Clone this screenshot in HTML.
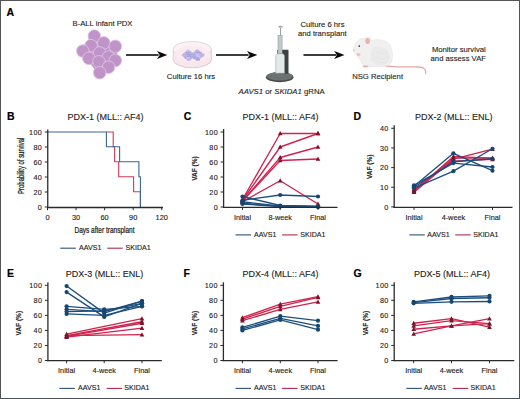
<!DOCTYPE html>
<html><head><meta charset="utf-8"><style>
html,body{margin:0;padding:0;background:#fff;}
body{width:520px;height:399px;overflow:hidden;}
svg{display:block;font-family:"Liberation Sans", sans-serif;}
text{stroke:#222;stroke-width:0.12px;}
</style></head><body>
<svg width="520" height="399" viewBox="0 0 520 399">
<rect x="0" y="0" width="520" height="399" fill="#fff"/>
<text x="6.60" y="15.60" font-size="10.5" text-anchor="start" font-weight="bold" font-style="normal" fill="#000" style="stroke:#000;stroke-width:0.2px">A</text>
<text x="102.50" y="26.36" font-size="7.7" text-anchor="middle" font-weight="normal" font-style="normal" fill="#1c1c1c" >B-ALL infant PDX</text>
<g>
<path d="M94.3,36.1 L103.8,42.9 L115.3,46.3 L115.3,60.5 L108.5,67.2 L99.7,72.7 L88.9,58.4 L82.8,51 L91,45.6 Z" fill="#c094c9" stroke="#c094c9" stroke-width="4" stroke-linejoin="round"/>
<circle cx="94.3" cy="36.1" r="6.3" fill="#c094c9" stroke="#dfc4e4" stroke-width="0.85"/>
<circle cx="91" cy="45.6" r="6.3" fill="#c094c9" stroke="#dfc4e4" stroke-width="0.85"/>
<circle cx="103.8" cy="42.9" r="6.3" fill="#c094c9" stroke="#dfc4e4" stroke-width="0.85"/>
<circle cx="115.3" cy="46.3" r="6.3" fill="#c094c9" stroke="#dfc4e4" stroke-width="0.85"/>
<circle cx="82.8" cy="51" r="6.3" fill="#c094c9" stroke="#dfc4e4" stroke-width="0.85"/>
<circle cx="99.7" cy="53" r="6.3" fill="#c094c9" stroke="#dfc4e4" stroke-width="0.85"/>
<circle cx="88.9" cy="58.4" r="6.3" fill="#c094c9" stroke="#dfc4e4" stroke-width="0.85"/>
<circle cx="108.5" cy="57.1" r="6.3" fill="#c094c9" stroke="#dfc4e4" stroke-width="0.85"/>
<circle cx="115.3" cy="60.5" r="6.3" fill="#c094c9" stroke="#dfc4e4" stroke-width="0.85"/>
<circle cx="99" cy="61.8" r="6.3" fill="#c094c9" stroke="#dfc4e4" stroke-width="0.85"/>
<circle cx="108.5" cy="67.2" r="6.3" fill="#c094c9" stroke="#dfc4e4" stroke-width="0.85"/>
<circle cx="99.7" cy="72.7" r="6.3" fill="#c094c9" stroke="#dfc4e4" stroke-width="0.85"/>
</g>
<line x1="126.00" y1="54.90" x2="158.50" y2="54.90" stroke="#3c3c3c" stroke-width="2.0" />
<path d="M167.3,54.9 L157.0,50.9 L159.70000000000002,54.9 L157.0,58.9Z" fill="#0a0a0a"/>
<line x1="216.00" y1="54.90" x2="248.50" y2="54.90" stroke="#3c3c3c" stroke-width="2.0" />
<path d="M257.3,54.9 L247.0,50.9 L249.70000000000002,54.9 L247.0,58.9Z" fill="#0a0a0a"/>
<line x1="303.50" y1="54.90" x2="336.30" y2="54.90" stroke="#3c3c3c" stroke-width="2.0" />
<path d="M344.5,54.9 L334.2,50.9 L336.9,54.9 L334.2,58.9Z" fill="#0a0a0a"/>
<ellipse cx="192.3" cy="59.4" rx="19.2" ry="8.4" fill="#f8e6ed" stroke="#e0b8c6" stroke-width="0.8"/>
<rect x="173.1" y="49.6" width="38.4" height="9.8" fill="#f8e6ed"/>
<line x1="173.1" y1="49.6" x2="173.1" y2="59.4" stroke="#d6cbd0" stroke-width="0.7"/>
<line x1="211.5" y1="49.6" x2="211.5" y2="59.4" stroke="#d6cbd0" stroke-width="0.7"/>
<ellipse cx="192.3" cy="49.6" rx="19.2" ry="8.1" fill="#fcf1f5" stroke="#c9ced6" stroke-width="0.7"/>
<ellipse cx="192.3" cy="54.3" rx="17.3" ry="8.2" fill="#fbeaf0"/>
<path d="M181.3,55.2 L188.3,49.3 L192.8,52.8 L197.3,49.3 L204.6,55.2 L197.3,61 L192.8,58.5 L188.3,61 Z" fill="#bfb9e6"/>
<circle cx="187.40" cy="50.80" r="0.95" fill="#cdc8ee"/>
<circle cx="189.20" cy="50.80" r="0.95" fill="#cdc8ee"/>
<circle cx="196.40" cy="50.80" r="0.95" fill="#b9b3e3"/>
<circle cx="198.20" cy="50.80" r="0.95" fill="#b9b3e3"/>
<circle cx="186.50" cy="52.60" r="0.95" fill="#a7a0d9"/>
<circle cx="188.30" cy="52.60" r="0.95" fill="#aea8de"/>
<circle cx="190.10" cy="52.60" r="0.95" fill="#aea8de"/>
<circle cx="191.90" cy="52.60" r="0.95" fill="#cdc8ee"/>
<circle cx="195.50" cy="52.60" r="0.95" fill="#b9b3e3"/>
<circle cx="197.30" cy="52.60" r="0.95" fill="#a7a0d9"/>
<circle cx="199.10" cy="52.60" r="0.95" fill="#a7a0d9"/>
<circle cx="200.90" cy="52.60" r="0.95" fill="#aea8de"/>
<circle cx="183.80" cy="54.40" r="0.95" fill="#b9b3e3"/>
<circle cx="185.60" cy="54.40" r="0.95" fill="#b9b3e3"/>
<circle cx="187.40" cy="54.40" r="0.95" fill="#a7a0d9"/>
<circle cx="189.20" cy="54.40" r="0.95" fill="#a7a0d9"/>
<circle cx="191.00" cy="54.40" r="0.95" fill="#aea8de"/>
<circle cx="192.80" cy="54.40" r="0.95" fill="#aea8de"/>
<circle cx="194.60" cy="54.40" r="0.95" fill="#aea8de"/>
<circle cx="196.40" cy="54.40" r="0.95" fill="#cdc8ee"/>
<circle cx="198.20" cy="54.40" r="0.95" fill="#cdc8ee"/>
<circle cx="200.00" cy="54.40" r="0.95" fill="#b9b3e3"/>
<circle cx="201.80" cy="54.40" r="0.95" fill="#b9b3e3"/>
<circle cx="203.60" cy="54.40" r="0.95" fill="#b9b3e3"/>
<circle cx="184.70" cy="56.20" r="0.95" fill="#b9b3e3"/>
<circle cx="186.50" cy="56.20" r="0.95" fill="#b9b3e3"/>
<circle cx="188.30" cy="56.20" r="0.95" fill="#a7a0d9"/>
<circle cx="190.10" cy="56.20" r="0.95" fill="#a7a0d9"/>
<circle cx="191.90" cy="56.20" r="0.95" fill="#aea8de"/>
<circle cx="193.70" cy="56.20" r="0.95" fill="#aea8de"/>
<circle cx="195.50" cy="56.20" r="0.95" fill="#aea8de"/>
<circle cx="197.30" cy="56.20" r="0.95" fill="#cdc8ee"/>
<circle cx="199.10" cy="56.20" r="0.95" fill="#cdc8ee"/>
<circle cx="200.90" cy="56.20" r="0.95" fill="#b9b3e3"/>
<circle cx="202.70" cy="56.20" r="0.95" fill="#b9b3e3"/>
<circle cx="185.60" cy="58.00" r="0.95" fill="#aea8de"/>
<circle cx="187.40" cy="58.00" r="0.95" fill="#cdc8ee"/>
<circle cx="189.20" cy="58.00" r="0.95" fill="#cdc8ee"/>
<circle cx="191.00" cy="58.00" r="0.95" fill="#b9b3e3"/>
<circle cx="194.60" cy="58.00" r="0.95" fill="#a7a0d9"/>
<circle cx="196.40" cy="58.00" r="0.95" fill="#aea8de"/>
<circle cx="198.20" cy="58.00" r="0.95" fill="#aea8de"/>
<circle cx="200.00" cy="58.00" r="0.95" fill="#cdc8ee"/>
<circle cx="188.30" cy="59.80" r="0.95" fill="#b9b3e3"/>
<circle cx="190.10" cy="59.80" r="0.95" fill="#b9b3e3"/>
<circle cx="197.30" cy="59.80" r="0.95" fill="#a7a0d9"/>
<circle cx="199.10" cy="59.80" r="0.95" fill="#a7a0d9"/>
<text x="191.00" y="79.36" font-size="7.7" text-anchor="middle" font-weight="normal" font-style="normal" fill="#1c1c1c" >Culture 16 hrs</text>
<ellipse cx="279.7" cy="77.3" rx="13.8" ry="5" fill="#474d4c"/>
<ellipse cx="279.7" cy="76.3" rx="13.2" ry="4.2" fill="#6c7271"/>
<rect x="277.3" y="49.7" width="11.2" height="24" rx="0.8" fill="#3b4342"/>
<rect x="278" y="35.3" width="4.1" height="18" fill="#c3c9c9" stroke="#8a9292" stroke-width="0.5"/>
<rect x="280" y="28" width="1" height="7.5" fill="#9aa1a0"/>
<ellipse cx="280.5" cy="26.8" rx="2.4" ry="1" fill="#a3aaa9"/>
<path d="M275.7,73.2 L275.7,56.5 C275.7,54.5 277,53.6 278.5,53.6 L281.7,53.6 C283.2,53.6 284.5,54.5 284.5,56.5 L284.5,73.2 Z" fill="#e3e8e8" stroke="#99a1a1" stroke-width="0.5"/>
<text x="238.5" y="94.22" font-size="7.75" fill="#1c1c1c"><tspan font-style="italic">AAVS1</tspan> or <tspan font-style="italic">SKIDA1</tspan> gRNA</text>
<text x="322.50" y="26.86" font-size="7.7" text-anchor="middle" font-weight="normal" font-style="normal" fill="#1c1c1c" >Culture 6 hrs</text>
<text x="322.30" y="35.66" font-size="7.7" text-anchor="middle" font-weight="normal" font-style="normal" fill="#1c1c1c" >and transplant</text>
<path d="M386,66.2 C398,67.6 410,66.6 419.5,67 C424.5,67.4 426.3,70 425.6,73.6" fill="none" stroke="#e2a9a8" stroke-width="1.3" stroke-linecap="round"/>
<path d="M353.3,50 C354.5,45 357,40.5 360.5,38.9 C364,37.8 368,38.8 371.5,40.5 C376,39 384,39.3 388.5,43.5 C392.5,47.5 393.2,56 391.8,61 C390.5,64.8 387.5,66 383,66.4 L366.5,66.6 C363.5,66.4 361.8,64 361.4,61 C359.8,59.2 357.6,57.5 357,55 C355.2,53.8 353.4,52.2 353.3,50 Z" fill="#f0f0f1" stroke="#dcdcdf" stroke-width="0.5"/>
<path d="M372,48 C378,45 387,47 389.5,54 C391,60 388,64.8 383,65.5 C377,66 371,63 370.5,57 Z" fill="#e8e8ea" opacity="0.8"/>
<path d="M376,52 C380,54 384,54 388,52 M375,57 C380,59 385,59 389,57 M377,61.5 C381,63 385,63 388.5,61.5" fill="none" stroke="#dedee2" stroke-width="0.5"/>
<ellipse cx="367.6" cy="40.8" rx="3.4" ry="3.9" fill="#f7ecea"/>
<ellipse cx="367.6" cy="41" rx="2.4" ry="3" fill="#e8b4b0"/>
<circle cx="359.3" cy="46.1" r="0.85" fill="#3a2c33"/>
<ellipse cx="358.4" cy="54.6" rx="2.1" ry="1.4" fill="#ecbcb8"/>
<ellipse cx="353.8" cy="50.2" rx="0.9" ry="0.8" fill="#e8b8b4"/>
<ellipse cx="365.5" cy="66.3" rx="3.2" ry="0.9" fill="#e7b0ad"/>
<text x="377.60" y="79.36" font-size="7.7" text-anchor="middle" font-weight="normal" font-style="normal" fill="#1c1c1c" >NSG Recipient</text>
<text x="458.80" y="52.26" font-size="7.7" text-anchor="middle" font-weight="normal" font-style="normal" fill="#1c1c1c" >Monitor survival</text>
<text x="458.30" y="61.16" font-size="7.7" text-anchor="middle" font-weight="normal" font-style="normal" fill="#1c1c1c" >and assess VAF</text>
<text x="6.90" y="120.20" font-size="10.5" text-anchor="start" font-weight="bold" font-style="normal" fill="#000" style="stroke:#000;stroke-width:0.2px">B</text>
<text x="105.50" y="119.92" font-size="9.0" text-anchor="middle" font-weight="normal" font-style="normal" fill="#1c1c1c" >PDX-1 (MLL:: AF4)</text>
<path d="M106.4,132 L113.2,132 L113.2,146.8 L114.6,146.8 L114.6,161.8 L118.7,161.8 L118.7,176.8 L133.6,176.8 L133.6,191.8 L140.4,191.8 L140.4,207" fill="none" stroke="#d23a5c" stroke-width="1.1"/>
<path d="M47.5,132 L106.4,132 L106.4,146.8 L119.6,146.8 L119.6,161.8 L138.9,161.8 L138.9,176.8 L140.4,176.8 L140.4,207" fill="none" stroke="#36679a" stroke-width="1.1"/>
<line x1="47.75" y1="129.50" x2="47.75" y2="207.60" stroke="#2b2b2b" stroke-width="1.3" />
<line x1="44.75" y1="132.00" x2="47.75" y2="132.00" stroke="#2b2b2b" stroke-width="1.0" />
<text x="42.25" y="134.78" font-size="7.2" text-anchor="end" font-weight="normal" font-style="normal" fill="#222" letter-spacing="0.4">100</text>
<line x1="44.75" y1="147.00" x2="47.75" y2="147.00" stroke="#2b2b2b" stroke-width="1.0" />
<text x="42.25" y="149.78" font-size="7.2" text-anchor="end" font-weight="normal" font-style="normal" fill="#222" letter-spacing="0.4">80</text>
<line x1="44.75" y1="162.00" x2="47.75" y2="162.00" stroke="#2b2b2b" stroke-width="1.0" />
<text x="42.25" y="164.78" font-size="7.2" text-anchor="end" font-weight="normal" font-style="normal" fill="#222" letter-spacing="0.4">60</text>
<line x1="44.75" y1="177.00" x2="47.75" y2="177.00" stroke="#2b2b2b" stroke-width="1.0" />
<text x="42.25" y="179.78" font-size="7.2" text-anchor="end" font-weight="normal" font-style="normal" fill="#222" letter-spacing="0.4">40</text>
<line x1="44.75" y1="192.00" x2="47.75" y2="192.00" stroke="#2b2b2b" stroke-width="1.0" />
<text x="42.25" y="194.78" font-size="7.2" text-anchor="end" font-weight="normal" font-style="normal" fill="#222" letter-spacing="0.4">20</text>
<line x1="44.75" y1="207.00" x2="47.75" y2="207.00" stroke="#2b2b2b" stroke-width="1.0" />
<text x="42.25" y="209.78" font-size="7.2" text-anchor="end" font-weight="normal" font-style="normal" fill="#222" letter-spacing="0.4">0</text>
<line x1="47.10" y1="207.50" x2="163.00" y2="207.50" stroke="#2b2b2b" stroke-width="1.3" />
<line x1="47.50" y1="207.50" x2="47.50" y2="210.20" stroke="#2b2b2b" stroke-width="1.0" />
<text x="47.50" y="219.65" font-size="7.4" text-anchor="middle" font-weight="normal" font-style="normal" fill="#222" >0</text>
<line x1="76.06" y1="207.50" x2="76.06" y2="210.20" stroke="#2b2b2b" stroke-width="1.0" />
<text x="76.06" y="219.65" font-size="7.4" text-anchor="middle" font-weight="normal" font-style="normal" fill="#222" >30</text>
<line x1="104.62" y1="207.50" x2="104.62" y2="210.20" stroke="#2b2b2b" stroke-width="1.0" />
<text x="104.62" y="219.65" font-size="7.4" text-anchor="middle" font-weight="normal" font-style="normal" fill="#222" >60</text>
<line x1="133.18" y1="207.50" x2="133.18" y2="210.20" stroke="#2b2b2b" stroke-width="1.0" />
<text x="133.18" y="219.65" font-size="7.4" text-anchor="middle" font-weight="normal" font-style="normal" fill="#222" >90</text>
<line x1="161.74" y1="207.50" x2="161.74" y2="210.20" stroke="#2b2b2b" stroke-width="1.0" />
<text x="161.74" y="219.65" font-size="7.4" text-anchor="middle" font-weight="normal" font-style="normal" fill="#222" >120</text>
<text transform="translate(104.5,230.2) scale(0.74,1)" x="0" y="3.04" font-size="8.8" text-anchor="middle" font-weight="normal" style="stroke:#222;stroke-width:0.25px" fill="#222">Days after transplant</text>
<text transform="translate(20.85,165.80) rotate(-90) scale(0.7,1)" x="0" y="2.93" font-size="8.5" text-anchor="middle" font-weight="normal" fill="#222" style="stroke:#222;stroke-width:0.25px">Probability of survival</text>
<line x1="60.30" y1="248.20" x2="75.80" y2="248.20" stroke="#2d5078" stroke-width="1.1" />
<text x="79.00" y="250.14" font-size="7.1" text-anchor="start" font-weight="normal" font-style="normal" fill="#222" >AAVS1</text>
<line x1="107.20" y1="248.20" x2="122.70" y2="248.20" stroke="#b02a4e" stroke-width="1.1" />
<text x="125.50" y="250.14" font-size="7.1" text-anchor="start" font-weight="normal" font-style="normal" fill="#222" >SKIDA1</text>
<text x="183.70" y="120.20" font-size="10.5" text-anchor="start" font-weight="bold" font-style="normal" fill="#000" style="stroke:#000;stroke-width:0.2px">C</text>
<text x="280.50" y="119.92" font-size="9.0" text-anchor="middle" font-weight="normal" font-style="normal" fill="#1c1c1c" >PDX-1 (MLL:: AF4)</text>
<path d="M242.50,199.50 L280.20,133.50 L318.00,133.50" fill="none" stroke="#d0234e" stroke-width="1.35" stroke-linejoin="round"/>
<path d="M242.50,200.25 L280.20,147.00 L318.00,133.50" fill="none" stroke="#d0234e" stroke-width="1.35" stroke-linejoin="round"/>
<path d="M242.50,201.00 L280.20,157.50 L318.00,147.00" fill="none" stroke="#d0234e" stroke-width="1.35" stroke-linejoin="round"/>
<path d="M242.50,201.00 L280.20,160.50 L318.00,159.00" fill="none" stroke="#d0234e" stroke-width="1.35" stroke-linejoin="round"/>
<path d="M242.50,201.75 L280.20,180.75 L318.00,204.00" fill="none" stroke="#d0234e" stroke-width="1.35" stroke-linejoin="round"/>
<path d="M242.50,197.09 L244.80,201.34 L240.20,201.34Z" fill="#7a1428"/>
<path d="M280.20,131.09 L282.50,135.34 L277.90,135.34Z" fill="#7a1428"/>
<path d="M318.00,131.09 L320.30,135.34 L315.70,135.34Z" fill="#7a1428"/>
<path d="M242.50,197.84 L244.80,202.09 L240.20,202.09Z" fill="#7a1428"/>
<path d="M280.20,144.59 L282.50,148.84 L277.90,148.84Z" fill="#7a1428"/>
<path d="M318.00,131.09 L320.30,135.34 L315.70,135.34Z" fill="#7a1428"/>
<path d="M242.50,198.59 L244.80,202.84 L240.20,202.84Z" fill="#7a1428"/>
<path d="M280.20,155.09 L282.50,159.34 L277.90,159.34Z" fill="#7a1428"/>
<path d="M318.00,144.59 L320.30,148.84 L315.70,148.84Z" fill="#7a1428"/>
<path d="M242.50,198.59 L244.80,202.84 L240.20,202.84Z" fill="#7a1428"/>
<path d="M280.20,158.09 L282.50,162.34 L277.90,162.34Z" fill="#7a1428"/>
<path d="M318.00,156.59 L320.30,160.84 L315.70,160.84Z" fill="#7a1428"/>
<path d="M242.50,199.34 L244.80,203.59 L240.20,203.59Z" fill="#7a1428"/>
<path d="M280.20,178.34 L282.50,182.59 L277.90,182.59Z" fill="#7a1428"/>
<path d="M318.00,201.59 L320.30,205.84 L315.70,205.84Z" fill="#7a1428"/>
<path d="M242.50,196.50 L280.20,205.50 L318.00,206.25" fill="none" stroke="#1c4f80" stroke-width="1.35" stroke-linejoin="round"/>
<path d="M242.50,200.25 L280.20,195.00 L318.00,196.50" fill="none" stroke="#1c4f80" stroke-width="1.35" stroke-linejoin="round"/>
<path d="M242.50,201.75 L280.20,206.25 L318.00,206.78" fill="none" stroke="#1c4f80" stroke-width="1.35" stroke-linejoin="round"/>
<path d="M242.50,203.25 L280.20,206.25 L318.00,206.78" fill="none" stroke="#1c4f80" stroke-width="1.35" stroke-linejoin="round"/>
<path d="M242.50,204.00 L280.20,206.62 L318.00,206.78" fill="none" stroke="#1c4f80" stroke-width="1.35" stroke-linejoin="round"/>
<circle cx="242.50" cy="196.50" r="2.1" fill="#17466f"/>
<circle cx="280.20" cy="205.50" r="2.1" fill="#17466f"/>
<circle cx="318.00" cy="206.25" r="2.1" fill="#17466f"/>
<circle cx="242.50" cy="200.25" r="2.1" fill="#17466f"/>
<circle cx="280.20" cy="195.00" r="2.1" fill="#17466f"/>
<circle cx="318.00" cy="196.50" r="2.1" fill="#17466f"/>
<circle cx="242.50" cy="201.75" r="2.1" fill="#17466f"/>
<circle cx="280.20" cy="206.25" r="2.1" fill="#17466f"/>
<circle cx="318.00" cy="206.78" r="2.1" fill="#17466f"/>
<circle cx="242.50" cy="203.25" r="2.1" fill="#17466f"/>
<circle cx="280.20" cy="206.25" r="2.1" fill="#17466f"/>
<circle cx="318.00" cy="206.78" r="2.1" fill="#17466f"/>
<circle cx="242.50" cy="204.00" r="2.1" fill="#17466f"/>
<circle cx="280.20" cy="206.62" r="2.1" fill="#17466f"/>
<circle cx="318.00" cy="206.78" r="2.1" fill="#17466f"/>
<line x1="223.60" y1="129.00" x2="223.60" y2="207.90" stroke="#2b2b2b" stroke-width="1.3" />
<line x1="220.60" y1="132.00" x2="223.60" y2="132.00" stroke="#2b2b2b" stroke-width="1.0" />
<text x="218.10" y="134.78" font-size="7.2" text-anchor="end" font-weight="normal" font-style="normal" fill="#222" letter-spacing="0.4">100</text>
<line x1="220.60" y1="147.00" x2="223.60" y2="147.00" stroke="#2b2b2b" stroke-width="1.0" />
<text x="218.10" y="149.78" font-size="7.2" text-anchor="end" font-weight="normal" font-style="normal" fill="#222" letter-spacing="0.4">80</text>
<line x1="220.60" y1="162.00" x2="223.60" y2="162.00" stroke="#2b2b2b" stroke-width="1.0" />
<text x="218.10" y="164.78" font-size="7.2" text-anchor="end" font-weight="normal" font-style="normal" fill="#222" letter-spacing="0.4">60</text>
<line x1="220.60" y1="177.00" x2="223.60" y2="177.00" stroke="#2b2b2b" stroke-width="1.0" />
<text x="218.10" y="179.78" font-size="7.2" text-anchor="end" font-weight="normal" font-style="normal" fill="#222" letter-spacing="0.4">40</text>
<line x1="220.60" y1="192.00" x2="223.60" y2="192.00" stroke="#2b2b2b" stroke-width="1.0" />
<text x="218.10" y="194.78" font-size="7.2" text-anchor="end" font-weight="normal" font-style="normal" fill="#222" letter-spacing="0.4">20</text>
<line x1="220.60" y1="207.00" x2="223.60" y2="207.00" stroke="#2b2b2b" stroke-width="1.0" />
<text x="218.10" y="209.78" font-size="7.2" text-anchor="end" font-weight="normal" font-style="normal" fill="#222" letter-spacing="0.4">0</text>
<line x1="222.95" y1="207.30" x2="337.50" y2="207.30" stroke="#2b2b2b" stroke-width="1.3" />
<line x1="242.50" y1="207.30" x2="242.50" y2="209.90" stroke="#2b2b2b" stroke-width="1.0" />
<text x="242.50" y="219.61" font-size="7.3" text-anchor="middle" font-weight="normal" font-style="normal" fill="#222" >Initial</text>
<line x1="280.20" y1="207.30" x2="280.20" y2="209.90" stroke="#2b2b2b" stroke-width="1.0" />
<text x="280.20" y="219.61" font-size="7.3" text-anchor="middle" font-weight="normal" font-style="normal" fill="#222" >8-week</text>
<line x1="318.00" y1="207.30" x2="318.00" y2="209.90" stroke="#2b2b2b" stroke-width="1.0" />
<text x="318.00" y="219.61" font-size="7.3" text-anchor="middle" font-weight="normal" font-style="normal" fill="#222" >Final</text>
<text transform="translate(194.50,168.50) rotate(-90) scale(0.86,1)" x="0" y="2.62" font-size="7.6" text-anchor="middle" font-weight="bold" fill="#222">VAF (%)</text>
<line x1="235.50" y1="234.90" x2="251.00" y2="234.90" stroke="#2d5078" stroke-width="1.1" />
<text x="254.00" y="236.84" font-size="7.1" text-anchor="start" font-weight="normal" font-style="normal" fill="#222" >AAVS1</text>
<line x1="282.10" y1="234.90" x2="297.60" y2="234.90" stroke="#b02a4e" stroke-width="1.1" />
<text x="300.30" y="236.84" font-size="7.1" text-anchor="start" font-weight="normal" font-style="normal" fill="#222" >SKIDA1</text>
<text x="353.60" y="120.20" font-size="10.5" text-anchor="start" font-weight="bold" font-style="normal" fill="#000" style="stroke:#000;stroke-width:0.2px">D</text>
<text x="453.70" y="119.92" font-size="9.0" text-anchor="middle" font-weight="normal" font-style="normal" fill="#1c1c1c" >PDX-2 (MLL:: ENL)</text>
<path d="M414.00,191.18 L453.40,156.40 L492.50,158.36" fill="none" stroke="#d0234e" stroke-width="1.35" stroke-linejoin="round"/>
<path d="M414.00,192.16 L453.40,159.15 L492.50,149.13" fill="none" stroke="#d0234e" stroke-width="1.35" stroke-linejoin="round"/>
<path d="M414.00,189.22 L453.40,161.12 L492.50,159.35" fill="none" stroke="#d0234e" stroke-width="1.35" stroke-linejoin="round"/>
<path d="M414.00,190.20 L453.40,158.17 L492.50,157.97" fill="none" stroke="#d0234e" stroke-width="1.35" stroke-linejoin="round"/>
<path d="M414.00,188.77 L416.30,193.02 L411.70,193.02Z" fill="#7a1428"/>
<path d="M453.40,153.98 L455.70,158.24 L451.10,158.24Z" fill="#7a1428"/>
<path d="M492.50,155.95 L494.80,160.20 L490.20,160.20Z" fill="#7a1428"/>
<path d="M414.00,189.75 L416.30,194.00 L411.70,194.00Z" fill="#7a1428"/>
<path d="M453.40,156.74 L455.70,160.99 L451.10,160.99Z" fill="#7a1428"/>
<path d="M492.50,146.71 L494.80,150.97 L490.20,150.97Z" fill="#7a1428"/>
<path d="M414.00,186.80 L416.30,191.06 L411.70,191.06Z" fill="#7a1428"/>
<path d="M453.40,158.70 L455.70,162.96 L451.10,162.96Z" fill="#7a1428"/>
<path d="M492.50,156.93 L494.80,161.19 L490.20,161.19Z" fill="#7a1428"/>
<path d="M414.00,187.78 L416.30,192.04 L411.70,192.04Z" fill="#7a1428"/>
<path d="M453.40,155.75 L455.70,160.01 L451.10,160.01Z" fill="#7a1428"/>
<path d="M492.50,155.56 L494.80,159.81 L490.20,159.81Z" fill="#7a1428"/>
<path d="M414.00,186.27 L453.40,153.26 L492.50,170.74" fill="none" stroke="#1c4f80" stroke-width="1.35" stroke-linejoin="round"/>
<path d="M414.00,185.28 L453.40,163.08 L492.50,167.01" fill="none" stroke="#1c4f80" stroke-width="1.35" stroke-linejoin="round"/>
<path d="M414.00,188.23 L453.40,171.14 L492.50,148.74" fill="none" stroke="#1c4f80" stroke-width="1.35" stroke-linejoin="round"/>
<path d="M414.00,187.25 L453.40,161.71 L492.50,158.76" fill="none" stroke="#1c4f80" stroke-width="1.35" stroke-linejoin="round"/>
<circle cx="414.00" cy="186.27" r="2.1" fill="#17466f"/>
<circle cx="453.40" cy="153.26" r="2.1" fill="#17466f"/>
<circle cx="492.50" cy="170.74" r="2.1" fill="#17466f"/>
<circle cx="414.00" cy="185.28" r="2.1" fill="#17466f"/>
<circle cx="453.40" cy="163.08" r="2.1" fill="#17466f"/>
<circle cx="492.50" cy="167.01" r="2.1" fill="#17466f"/>
<circle cx="414.00" cy="188.23" r="2.1" fill="#17466f"/>
<circle cx="453.40" cy="171.14" r="2.1" fill="#17466f"/>
<circle cx="492.50" cy="148.74" r="2.1" fill="#17466f"/>
<circle cx="414.00" cy="187.25" r="2.1" fill="#17466f"/>
<circle cx="453.40" cy="161.71" r="2.1" fill="#17466f"/>
<circle cx="492.50" cy="158.76" r="2.1" fill="#17466f"/>
<line x1="394.20" y1="125.30" x2="394.20" y2="207.90" stroke="#2b2b2b" stroke-width="1.3" />
<line x1="391.20" y1="128.30" x2="394.20" y2="128.30" stroke="#2b2b2b" stroke-width="1.0" />
<text x="388.70" y="131.08" font-size="7.2" text-anchor="end" font-weight="normal" font-style="normal" fill="#222" letter-spacing="0.4">40</text>
<line x1="391.20" y1="147.95" x2="394.20" y2="147.95" stroke="#2b2b2b" stroke-width="1.0" />
<text x="388.70" y="150.73" font-size="7.2" text-anchor="end" font-weight="normal" font-style="normal" fill="#222" letter-spacing="0.4">30</text>
<line x1="391.20" y1="167.60" x2="394.20" y2="167.60" stroke="#2b2b2b" stroke-width="1.0" />
<text x="388.70" y="170.38" font-size="7.2" text-anchor="end" font-weight="normal" font-style="normal" fill="#222" letter-spacing="0.4">20</text>
<line x1="391.20" y1="187.25" x2="394.20" y2="187.25" stroke="#2b2b2b" stroke-width="1.0" />
<text x="388.70" y="190.03" font-size="7.2" text-anchor="end" font-weight="normal" font-style="normal" fill="#222" letter-spacing="0.4">10</text>
<line x1="391.20" y1="206.90" x2="394.20" y2="206.90" stroke="#2b2b2b" stroke-width="1.0" />
<text x="388.70" y="209.68" font-size="7.2" text-anchor="end" font-weight="normal" font-style="normal" fill="#222" letter-spacing="0.4">0</text>
<line x1="393.55" y1="207.30" x2="512.50" y2="207.30" stroke="#2b2b2b" stroke-width="1.3" />
<line x1="414.00" y1="207.30" x2="414.00" y2="209.90" stroke="#2b2b2b" stroke-width="1.0" />
<text x="414.00" y="219.61" font-size="7.3" text-anchor="middle" font-weight="normal" font-style="normal" fill="#222" >Initial</text>
<line x1="453.40" y1="207.30" x2="453.40" y2="209.90" stroke="#2b2b2b" stroke-width="1.0" />
<text x="453.40" y="219.61" font-size="7.3" text-anchor="middle" font-weight="normal" font-style="normal" fill="#222" >4-week</text>
<line x1="492.50" y1="207.30" x2="492.50" y2="209.90" stroke="#2b2b2b" stroke-width="1.0" />
<text x="492.50" y="219.61" font-size="7.3" text-anchor="middle" font-weight="normal" font-style="normal" fill="#222" >Final</text>
<text transform="translate(369.60,166.80) rotate(-90) scale(0.86,1)" x="0" y="2.62" font-size="7.6" text-anchor="middle" font-weight="bold" fill="#222">VAF (%)</text>
<line x1="409.30" y1="234.90" x2="424.80" y2="234.90" stroke="#2d5078" stroke-width="1.1" />
<text x="427.30" y="236.84" font-size="7.1" text-anchor="start" font-weight="normal" font-style="normal" fill="#222" >AAVS1</text>
<line x1="455.20" y1="234.90" x2="470.70" y2="234.90" stroke="#b02a4e" stroke-width="1.1" />
<text x="473.20" y="236.84" font-size="7.1" text-anchor="start" font-weight="normal" font-style="normal" fill="#222" >SKIDA1</text>
<text x="7.10" y="276.60" font-size="10.5" text-anchor="start" font-weight="bold" font-style="normal" fill="#000" style="stroke:#000;stroke-width:0.2px">E</text>
<text x="104.60" y="276.92" font-size="9.0" text-anchor="middle" font-weight="normal" font-style="normal" fill="#1c1c1c" >PDX-3 (MLL:: ENL)</text>
<path d="M66.60,334.18 L142.00,318.69" fill="none" stroke="#d0234e" stroke-width="1.35" stroke-linejoin="round"/>
<path d="M66.60,335.68 L142.00,321.77" fill="none" stroke="#d0234e" stroke-width="1.35" stroke-linejoin="round"/>
<path d="M66.60,336.44 L142.00,323.28" fill="none" stroke="#d0234e" stroke-width="1.35" stroke-linejoin="round"/>
<path d="M66.60,337.19 L142.00,328.16" fill="none" stroke="#d0234e" stroke-width="1.35" stroke-linejoin="round"/>
<path d="M66.60,335.68 L142.00,334.56" fill="none" stroke="#d0234e" stroke-width="1.35" stroke-linejoin="round"/>
<path d="M66.60,331.76 L68.90,336.02 L64.30,336.02Z" fill="#7a1428"/>
<path d="M142.00,316.27 L144.30,320.53 L139.70,320.53Z" fill="#7a1428"/>
<path d="M66.60,333.27 L68.90,337.52 L64.30,337.52Z" fill="#7a1428"/>
<path d="M142.00,319.36 L144.30,323.61 L139.70,323.61Z" fill="#7a1428"/>
<path d="M66.60,334.02 L68.90,338.28 L64.30,338.28Z" fill="#7a1428"/>
<path d="M142.00,320.86 L144.30,325.12 L139.70,325.12Z" fill="#7a1428"/>
<path d="M66.60,334.77 L68.90,339.03 L64.30,339.03Z" fill="#7a1428"/>
<path d="M142.00,325.75 L144.30,330.00 L139.70,330.00Z" fill="#7a1428"/>
<path d="M66.60,333.27 L68.90,337.52 L64.30,337.52Z" fill="#7a1428"/>
<path d="M142.00,332.14 L144.30,336.40 L139.70,336.40Z" fill="#7a1428"/>
<path d="M66.60,286.05 L104.20,313.12 L142.00,301.09" fill="none" stroke="#1c4f80" stroke-width="1.35" stroke-linejoin="round"/>
<path d="M66.60,292.07 L104.20,316.88 L142.00,303.35" fill="none" stroke="#1c4f80" stroke-width="1.35" stroke-linejoin="round"/>
<path d="M66.60,306.36 L104.20,309.36 L142.00,306.36" fill="none" stroke="#1c4f80" stroke-width="1.35" stroke-linejoin="round"/>
<path d="M66.60,309.36 L104.20,311.62 L142.00,301.09" fill="none" stroke="#1c4f80" stroke-width="1.35" stroke-linejoin="round"/>
<path d="M66.60,311.62 L104.20,310.87 L142.00,303.35" fill="none" stroke="#1c4f80" stroke-width="1.35" stroke-linejoin="round"/>
<path d="M66.60,313.88 L104.20,315.38 L142.00,306.36" fill="none" stroke="#1c4f80" stroke-width="1.35" stroke-linejoin="round"/>
<circle cx="66.60" cy="286.05" r="2.1" fill="#17466f"/>
<circle cx="104.20" cy="313.12" r="2.1" fill="#17466f"/>
<circle cx="142.00" cy="301.09" r="2.1" fill="#17466f"/>
<circle cx="66.60" cy="292.07" r="2.1" fill="#17466f"/>
<circle cx="104.20" cy="316.88" r="2.1" fill="#17466f"/>
<circle cx="142.00" cy="303.35" r="2.1" fill="#17466f"/>
<circle cx="66.60" cy="306.36" r="2.1" fill="#17466f"/>
<circle cx="104.20" cy="309.36" r="2.1" fill="#17466f"/>
<circle cx="142.00" cy="306.36" r="2.1" fill="#17466f"/>
<circle cx="66.60" cy="309.36" r="2.1" fill="#17466f"/>
<circle cx="104.20" cy="311.62" r="2.1" fill="#17466f"/>
<circle cx="142.00" cy="301.09" r="2.1" fill="#17466f"/>
<circle cx="66.60" cy="311.62" r="2.1" fill="#17466f"/>
<circle cx="104.20" cy="310.87" r="2.1" fill="#17466f"/>
<circle cx="142.00" cy="303.35" r="2.1" fill="#17466f"/>
<circle cx="66.60" cy="313.88" r="2.1" fill="#17466f"/>
<circle cx="104.20" cy="315.38" r="2.1" fill="#17466f"/>
<circle cx="142.00" cy="306.36" r="2.1" fill="#17466f"/>
<line x1="47.90" y1="282.30" x2="47.90" y2="361.20" stroke="#2b2b2b" stroke-width="1.3" />
<line x1="44.90" y1="285.30" x2="47.90" y2="285.30" stroke="#2b2b2b" stroke-width="1.0" />
<text x="42.40" y="288.08" font-size="7.2" text-anchor="end" font-weight="normal" font-style="normal" fill="#222" letter-spacing="0.4">100</text>
<line x1="44.90" y1="300.34" x2="47.90" y2="300.34" stroke="#2b2b2b" stroke-width="1.0" />
<text x="42.40" y="303.12" font-size="7.2" text-anchor="end" font-weight="normal" font-style="normal" fill="#222" letter-spacing="0.4">80</text>
<line x1="44.90" y1="315.38" x2="47.90" y2="315.38" stroke="#2b2b2b" stroke-width="1.0" />
<text x="42.40" y="318.16" font-size="7.2" text-anchor="end" font-weight="normal" font-style="normal" fill="#222" letter-spacing="0.4">60</text>
<line x1="44.90" y1="330.42" x2="47.90" y2="330.42" stroke="#2b2b2b" stroke-width="1.0" />
<text x="42.40" y="333.20" font-size="7.2" text-anchor="end" font-weight="normal" font-style="normal" fill="#222" letter-spacing="0.4">40</text>
<line x1="44.90" y1="345.46" x2="47.90" y2="345.46" stroke="#2b2b2b" stroke-width="1.0" />
<text x="42.40" y="348.24" font-size="7.2" text-anchor="end" font-weight="normal" font-style="normal" fill="#222" letter-spacing="0.4">20</text>
<line x1="44.90" y1="360.50" x2="47.90" y2="360.50" stroke="#2b2b2b" stroke-width="1.0" />
<text x="42.40" y="363.28" font-size="7.2" text-anchor="end" font-weight="normal" font-style="normal" fill="#222" letter-spacing="0.4">0</text>
<line x1="47.25" y1="360.60" x2="161.80" y2="360.60" stroke="#2b2b2b" stroke-width="1.3" />
<line x1="66.60" y1="360.60" x2="66.60" y2="363.20" stroke="#2b2b2b" stroke-width="1.0" />
<text x="66.60" y="373.21" font-size="7.3" text-anchor="middle" font-weight="normal" font-style="normal" fill="#222" >Initial</text>
<line x1="104.20" y1="360.60" x2="104.20" y2="363.20" stroke="#2b2b2b" stroke-width="1.0" />
<text x="104.20" y="373.21" font-size="7.3" text-anchor="middle" font-weight="normal" font-style="normal" fill="#222" >4-week</text>
<line x1="142.00" y1="360.60" x2="142.00" y2="363.20" stroke="#2b2b2b" stroke-width="1.0" />
<text x="142.00" y="373.21" font-size="7.3" text-anchor="middle" font-weight="normal" font-style="normal" fill="#222" >Final</text>
<text transform="translate(18.60,323.20) rotate(-90) scale(0.86,1)" x="0" y="2.62" font-size="7.6" text-anchor="middle" font-weight="bold" fill="#222">VAF (%)</text>
<line x1="59.30" y1="388.40" x2="74.80" y2="388.40" stroke="#2d5078" stroke-width="1.1" />
<text x="78.00" y="390.34" font-size="7.1" text-anchor="start" font-weight="normal" font-style="normal" fill="#222" >AAVS1</text>
<line x1="106.70" y1="388.40" x2="122.20" y2="388.40" stroke="#b02a4e" stroke-width="1.1" />
<text x="124.30" y="390.34" font-size="7.1" text-anchor="start" font-weight="normal" font-style="normal" fill="#222" >SKIDA1</text>
<text x="183.50" y="276.60" font-size="10.5" text-anchor="start" font-weight="bold" font-style="normal" fill="#000" style="stroke:#000;stroke-width:0.2px">F</text>
<text x="280.60" y="276.92" font-size="9.0" text-anchor="middle" font-weight="normal" font-style="normal" fill="#1c1c1c" >PDX-4 (MLL:: AF4)</text>
<path d="M242.40,317.64 L280.30,304.10 L318.00,296.58" fill="none" stroke="#d0234e" stroke-width="1.35" stroke-linejoin="round"/>
<path d="M242.40,319.14 L280.30,306.36 L318.00,297.33" fill="none" stroke="#d0234e" stroke-width="1.35" stroke-linejoin="round"/>
<path d="M242.40,320.64 L280.30,309.36 L318.00,301.84" fill="none" stroke="#d0234e" stroke-width="1.35" stroke-linejoin="round"/>
<path d="M242.40,315.22 L244.70,319.48 L240.10,319.48Z" fill="#7a1428"/>
<path d="M280.30,301.69 L282.60,305.94 L278.00,305.94Z" fill="#7a1428"/>
<path d="M318.00,294.16 L320.30,298.42 L315.70,298.42Z" fill="#7a1428"/>
<path d="M242.40,316.72 L244.70,320.98 L240.10,320.98Z" fill="#7a1428"/>
<path d="M280.30,303.94 L282.60,308.20 L278.00,308.20Z" fill="#7a1428"/>
<path d="M318.00,294.92 L320.30,299.17 L315.70,299.17Z" fill="#7a1428"/>
<path d="M242.40,318.23 L244.70,322.48 L240.10,322.48Z" fill="#7a1428"/>
<path d="M280.30,306.95 L282.60,311.20 L278.00,311.20Z" fill="#7a1428"/>
<path d="M318.00,299.43 L320.30,303.68 L315.70,303.68Z" fill="#7a1428"/>
<path d="M242.40,327.41 L280.30,316.13 L318.00,320.64" fill="none" stroke="#1c4f80" stroke-width="1.35" stroke-linejoin="round"/>
<path d="M242.40,328.92 L280.30,318.39 L318.00,325.91" fill="none" stroke="#1c4f80" stroke-width="1.35" stroke-linejoin="round"/>
<path d="M242.40,330.42 L280.30,319.89 L318.00,329.67" fill="none" stroke="#1c4f80" stroke-width="1.35" stroke-linejoin="round"/>
<circle cx="242.40" cy="327.41" r="2.1" fill="#17466f"/>
<circle cx="280.30" cy="316.13" r="2.1" fill="#17466f"/>
<circle cx="318.00" cy="320.64" r="2.1" fill="#17466f"/>
<circle cx="242.40" cy="328.92" r="2.1" fill="#17466f"/>
<circle cx="280.30" cy="318.39" r="2.1" fill="#17466f"/>
<circle cx="318.00" cy="325.91" r="2.1" fill="#17466f"/>
<circle cx="242.40" cy="330.42" r="2.1" fill="#17466f"/>
<circle cx="280.30" cy="319.89" r="2.1" fill="#17466f"/>
<circle cx="318.00" cy="329.67" r="2.1" fill="#17466f"/>
<line x1="223.40" y1="282.30" x2="223.40" y2="361.20" stroke="#2b2b2b" stroke-width="1.3" />
<line x1="220.40" y1="285.30" x2="223.40" y2="285.30" stroke="#2b2b2b" stroke-width="1.0" />
<text x="217.90" y="288.08" font-size="7.2" text-anchor="end" font-weight="normal" font-style="normal" fill="#222" letter-spacing="0.4">100</text>
<line x1="220.40" y1="300.34" x2="223.40" y2="300.34" stroke="#2b2b2b" stroke-width="1.0" />
<text x="217.90" y="303.12" font-size="7.2" text-anchor="end" font-weight="normal" font-style="normal" fill="#222" letter-spacing="0.4">80</text>
<line x1="220.40" y1="315.38" x2="223.40" y2="315.38" stroke="#2b2b2b" stroke-width="1.0" />
<text x="217.90" y="318.16" font-size="7.2" text-anchor="end" font-weight="normal" font-style="normal" fill="#222" letter-spacing="0.4">60</text>
<line x1="220.40" y1="330.42" x2="223.40" y2="330.42" stroke="#2b2b2b" stroke-width="1.0" />
<text x="217.90" y="333.20" font-size="7.2" text-anchor="end" font-weight="normal" font-style="normal" fill="#222" letter-spacing="0.4">40</text>
<line x1="220.40" y1="345.46" x2="223.40" y2="345.46" stroke="#2b2b2b" stroke-width="1.0" />
<text x="217.90" y="348.24" font-size="7.2" text-anchor="end" font-weight="normal" font-style="normal" fill="#222" letter-spacing="0.4">20</text>
<line x1="220.40" y1="360.50" x2="223.40" y2="360.50" stroke="#2b2b2b" stroke-width="1.0" />
<text x="217.90" y="363.28" font-size="7.2" text-anchor="end" font-weight="normal" font-style="normal" fill="#222" letter-spacing="0.4">0</text>
<line x1="222.75" y1="360.60" x2="337.60" y2="360.60" stroke="#2b2b2b" stroke-width="1.3" />
<line x1="242.40" y1="360.60" x2="242.40" y2="363.20" stroke="#2b2b2b" stroke-width="1.0" />
<text x="242.40" y="373.21" font-size="7.3" text-anchor="middle" font-weight="normal" font-style="normal" fill="#222" >Initial</text>
<line x1="280.30" y1="360.60" x2="280.30" y2="363.20" stroke="#2b2b2b" stroke-width="1.0" />
<text x="280.30" y="373.21" font-size="7.3" text-anchor="middle" font-weight="normal" font-style="normal" fill="#222" >4-week</text>
<line x1="318.00" y1="360.60" x2="318.00" y2="363.20" stroke="#2b2b2b" stroke-width="1.0" />
<text x="318.00" y="373.21" font-size="7.3" text-anchor="middle" font-weight="normal" font-style="normal" fill="#222" >Final</text>
<text transform="translate(194.80,323.00) rotate(-90) scale(0.86,1)" x="0" y="2.62" font-size="7.6" text-anchor="middle" font-weight="bold" fill="#222">VAF (%)</text>
<line x1="235.50" y1="388.40" x2="251.00" y2="388.40" stroke="#2d5078" stroke-width="1.1" />
<text x="254.00" y="390.34" font-size="7.1" text-anchor="start" font-weight="normal" font-style="normal" fill="#222" >AAVS1</text>
<line x1="282.10" y1="388.40" x2="297.60" y2="388.40" stroke="#b02a4e" stroke-width="1.1" />
<text x="300.30" y="390.34" font-size="7.1" text-anchor="start" font-weight="normal" font-style="normal" fill="#222" >SKIDA1</text>
<text x="353.40" y="276.60" font-size="10.5" text-anchor="start" font-weight="bold" font-style="normal" fill="#000" style="stroke:#000;stroke-width:0.2px">G</text>
<text x="452.00" y="276.92" font-size="9.0" text-anchor="middle" font-weight="normal" font-style="normal" fill="#1c1c1c" >PDX-5 (MLL:: AF4)</text>
<path d="M413.70,323.28 L451.50,318.69 L489.50,327.04" fill="none" stroke="#d0234e" stroke-width="1.35" stroke-linejoin="round"/>
<path d="M413.70,325.91 L451.50,320.64 L489.50,323.65" fill="none" stroke="#d0234e" stroke-width="1.35" stroke-linejoin="round"/>
<path d="M413.70,329.22 L451.50,325.91 L489.50,318.69" fill="none" stroke="#d0234e" stroke-width="1.35" stroke-linejoin="round"/>
<path d="M413.70,333.95 L451.50,325.91 L489.50,323.65" fill="none" stroke="#d0234e" stroke-width="1.35" stroke-linejoin="round"/>
<path d="M413.70,320.86 L416.00,325.12 L411.40,325.12Z" fill="#7a1428"/>
<path d="M451.50,316.27 L453.80,320.53 L449.20,320.53Z" fill="#7a1428"/>
<path d="M489.50,324.62 L491.80,328.88 L487.20,328.88Z" fill="#7a1428"/>
<path d="M413.70,323.49 L416.00,327.75 L411.40,327.75Z" fill="#7a1428"/>
<path d="M451.50,318.23 L453.80,322.48 L449.20,322.48Z" fill="#7a1428"/>
<path d="M489.50,321.24 L491.80,325.49 L487.20,325.49Z" fill="#7a1428"/>
<path d="M413.70,326.80 L416.00,331.06 L411.40,331.06Z" fill="#7a1428"/>
<path d="M451.50,323.49 L453.80,327.75 L449.20,327.75Z" fill="#7a1428"/>
<path d="M489.50,316.27 L491.80,320.53 L487.20,320.53Z" fill="#7a1428"/>
<path d="M413.70,331.54 L416.00,335.79 L411.40,335.79Z" fill="#7a1428"/>
<path d="M451.50,323.49 L453.80,327.75 L449.20,327.75Z" fill="#7a1428"/>
<path d="M489.50,321.24 L491.80,325.49 L487.20,325.49Z" fill="#7a1428"/>
<path d="M413.70,301.84 L451.50,296.96 L489.50,295.83" fill="none" stroke="#1c4f80" stroke-width="1.35" stroke-linejoin="round"/>
<path d="M413.70,302.60 L451.50,298.46 L489.50,297.71" fill="none" stroke="#1c4f80" stroke-width="1.35" stroke-linejoin="round"/>
<path d="M413.70,303.35 L451.50,301.84 L489.50,301.47" fill="none" stroke="#1c4f80" stroke-width="1.35" stroke-linejoin="round"/>
<circle cx="413.70" cy="301.84" r="2.1" fill="#17466f"/>
<circle cx="451.50" cy="296.96" r="2.1" fill="#17466f"/>
<circle cx="489.50" cy="295.83" r="2.1" fill="#17466f"/>
<circle cx="413.70" cy="302.60" r="2.1" fill="#17466f"/>
<circle cx="451.50" cy="298.46" r="2.1" fill="#17466f"/>
<circle cx="489.50" cy="297.71" r="2.1" fill="#17466f"/>
<circle cx="413.70" cy="303.35" r="2.1" fill="#17466f"/>
<circle cx="451.50" cy="301.84" r="2.1" fill="#17466f"/>
<circle cx="489.50" cy="301.47" r="2.1" fill="#17466f"/>
<line x1="394.20" y1="282.30" x2="394.20" y2="361.20" stroke="#2b2b2b" stroke-width="1.3" />
<line x1="391.20" y1="285.30" x2="394.20" y2="285.30" stroke="#2b2b2b" stroke-width="1.0" />
<text x="388.70" y="288.08" font-size="7.2" text-anchor="end" font-weight="normal" font-style="normal" fill="#222" letter-spacing="0.4">100</text>
<line x1="391.20" y1="300.34" x2="394.20" y2="300.34" stroke="#2b2b2b" stroke-width="1.0" />
<text x="388.70" y="303.12" font-size="7.2" text-anchor="end" font-weight="normal" font-style="normal" fill="#222" letter-spacing="0.4">80</text>
<line x1="391.20" y1="315.38" x2="394.20" y2="315.38" stroke="#2b2b2b" stroke-width="1.0" />
<text x="388.70" y="318.16" font-size="7.2" text-anchor="end" font-weight="normal" font-style="normal" fill="#222" letter-spacing="0.4">60</text>
<line x1="391.20" y1="330.42" x2="394.20" y2="330.42" stroke="#2b2b2b" stroke-width="1.0" />
<text x="388.70" y="333.20" font-size="7.2" text-anchor="end" font-weight="normal" font-style="normal" fill="#222" letter-spacing="0.4">40</text>
<line x1="391.20" y1="345.46" x2="394.20" y2="345.46" stroke="#2b2b2b" stroke-width="1.0" />
<text x="388.70" y="348.24" font-size="7.2" text-anchor="end" font-weight="normal" font-style="normal" fill="#222" letter-spacing="0.4">20</text>
<line x1="391.20" y1="360.50" x2="394.20" y2="360.50" stroke="#2b2b2b" stroke-width="1.0" />
<text x="388.70" y="363.28" font-size="7.2" text-anchor="end" font-weight="normal" font-style="normal" fill="#222" letter-spacing="0.4">0</text>
<line x1="393.55" y1="360.60" x2="514.30" y2="360.60" stroke="#2b2b2b" stroke-width="1.3" />
<line x1="413.70" y1="360.60" x2="413.70" y2="363.20" stroke="#2b2b2b" stroke-width="1.0" />
<text x="413.70" y="373.21" font-size="7.3" text-anchor="middle" font-weight="normal" font-style="normal" fill="#222" >Initial</text>
<line x1="451.50" y1="360.60" x2="451.50" y2="363.20" stroke="#2b2b2b" stroke-width="1.0" />
<text x="451.50" y="373.21" font-size="7.3" text-anchor="middle" font-weight="normal" font-style="normal" fill="#222" >4-week</text>
<line x1="489.50" y1="360.60" x2="489.50" y2="363.20" stroke="#2b2b2b" stroke-width="1.0" />
<text x="489.50" y="373.21" font-size="7.3" text-anchor="middle" font-weight="normal" font-style="normal" fill="#222" >Final</text>
<text transform="translate(365.60,323.00) rotate(-90) scale(0.86,1)" x="0" y="2.62" font-size="7.6" text-anchor="middle" font-weight="bold" fill="#222">VAF (%)</text>
<line x1="406.30" y1="388.40" x2="421.80" y2="388.40" stroke="#2d5078" stroke-width="1.1" />
<text x="424.00" y="390.34" font-size="7.1" text-anchor="start" font-weight="normal" font-style="normal" fill="#222" >AAVS1</text>
<line x1="452.70" y1="388.40" x2="468.20" y2="388.40" stroke="#b02a4e" stroke-width="1.1" />
<text x="470.50" y="390.34" font-size="7.1" text-anchor="start" font-weight="normal" font-style="normal" fill="#222" >SKIDA1</text>
<rect x="0.5" y="0.5" width="519" height="398" fill="none" stroke="#555" stroke-width="1"/>
<line x1="0" y1="398.5" x2="520" y2="398.5" stroke="#4b5058" stroke-width="1"/>
</svg>
</body></html>
